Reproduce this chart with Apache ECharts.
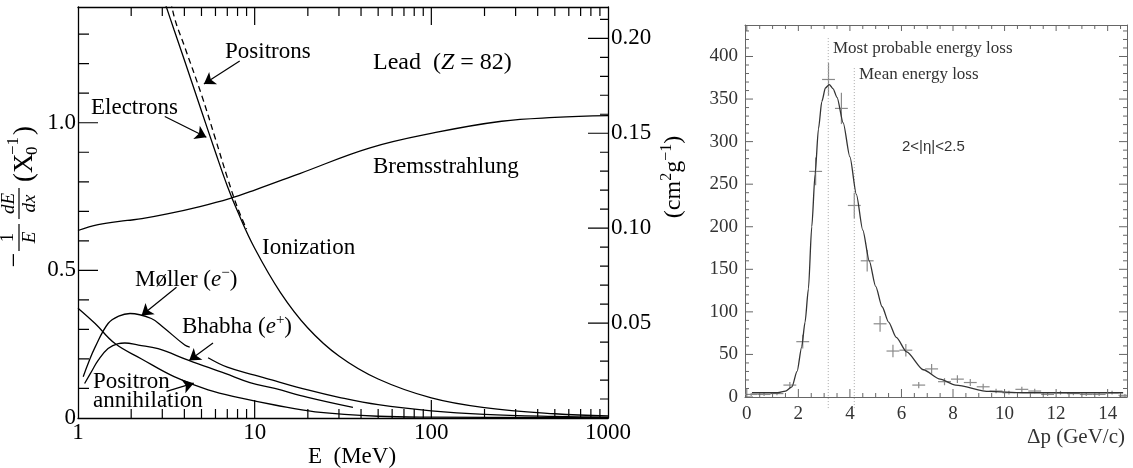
<!DOCTYPE html>
<html><head><meta charset="utf-8">
<script src="https://cdn.jsdelivr.net/npm/echarts@6/dist/echarts.min.js"></script>
<style>html,body{margin:0;padding:0;background:#fff}#c{width:1133px;height:468px}</style>
</head><body><div id="c"></div>
<script>
// ===== Left panel: -(1/E) dE/dx  [X0^-1]  vs  E [MeV], Lead =====
const energyTicks = [1, 10, 100, 1000];
const energyMajorTicks = [10, 100];
const energyMinor = [2,3,4,5,6,7,8,9,20,30,40,50,60,70,80,90,200,300,400,500,600,700,800,900];
const lossTicks = [0, 0.5, 1.0];
const lossMajorTicks = [0.5, 1.0];
const lossMinor = [0.1,0.2,0.3,0.4,0.6,0.7,0.8,0.9,1.1,1.2,1.3];
const massTicks = [0.05, 0.10, 0.15, 0.20];
const massMinor = [0.01,0.02,0.03,0.04,0.06,0.07,0.08,0.09,0.11,0.12,0.13,0.14,0.16,0.17,0.18,0.19,0.21];

const ionElectrons = [[3,1.433],[3.5,1.314],[4,1.2125],[5,1.04],[6,0.9],[7,0.786],[8,0.7],[10,0.575],[14,0.425],[20,0.305],[30,0.21],[50,0.132],[100,0.068],[200,0.035],[500,0.0144],[1000,0.0074]];
const ionPositrons = [[3.2,1.48],[3.5,1.36],[4,1.26],[5,1.095],[6,0.945],[7,0.815],[8,0.712],[9,0.64]];
const bremsstrahlung = [[1,0.635],[1.3,0.655],[1.9,0.669],[2.3,0.675],[3.2,0.691],[4.9,0.716],[7.2,0.743],[10,0.772],[18,0.828],[45,0.915],[106,0.967],[250,1.005],[500,1.018],[1000,1.024]];
const moller = [[1.07,0.14],[1.15,0.19],[1.25,0.24],[1.48,0.32],[1.7,0.345],[1.97,0.354],[2.6,0.337],[3,0.31],[4.02,0.247],[4.29,0.24],[4.9,'-'],[5.45,0.204],[7,0.172],[10,0.145],[12,0.132],[20,0.095],[30,0.07],[50,0.045],[100,0.024],[200,0.012],[500,0.005],[1000,0.0025]];
const bhabha = [[1.09,0.117],[1.2,0.16],[1.3,0.195],[1.48,0.235],[1.69,0.252],[1.84,0.254],[2.2,0.247],[2.84,0.235],[4.2,0.196],[6.8,0.151],[9.4,0.12],[13,0.1],[20,0.07],[36,0.036]];
const annihilation = [[1,0.372],[1.25,0.32],[1.62,0.252],[2.29,0.2],[3.5,0.14],[5.45,0.095],[8.4,0.067],[13,0.044],[22,0.021],[50,0.006],[100,0.003],[1000,0.001]];
// annotation arrows [fromE, fromV, toE, toV]
const arrows = [[8.23,1.209,5.16,1.131],[3.1,1.021,5.33,0.951],[3.61,0.443,2.29,0.347],[5.81,0.254,4.26,0.195],[3.17,0.09,4.52,0.118]];

// ===== Right panel: energy loss distribution =====
const dpMajor = [0,2,4,6,8,10,12,14];
const dpMinor = [0.5,1,1.5,2.5,3,3.5,4.5,5,5.5,6.5,7,7.5,8.5,9,9.5,10.5,11,11.5,12.5,13,13.5,14.5];
const countMajor = [0,50,100,150,200,250,300,350,400];
const countMinor = [10,20,30,40,60,70,80,90,110,120,130,140,160,170,180,190,210,220,230,240,260,270,280,290,310,320,330,340,360,370,380,390,410,420,430];
const dpCenters = [0.17,0.67,1.17,1.67,2.17,2.67,3.17,3.67,4.17,4.67,5.17,5.67,6.17,6.67,7.17,7.67,8.17,8.67,9.17,9.67,10.17,10.67,11.17,11.67,12.17,12.67,13.17,13.67,14.17,14.67];
const dpCounts  = [3,3,4,14,65,265,373,339,225,160,86,54,55,14,33,18,21,17,12,7,5,9,7,3,5,4,3,3,5,2];
const dpErrors  = [1.7,1.7,2,3.7,8,16.3,19.3,18.4,15,12.6,9.3,7.3,7.4,3.7,5.7,4.2,4.6,4.1,3.5,2.6,2.2,3,2.6,1.7,2.2,2,1.7,1.7,2.2,1.4];
const fitX = [0.2,1.2,1.5,1.75,1.95,2.13,2.26,2.39,2.52,2.65,2.78,2.91,3.05,3.2,3.35,3.5,3.74,4.0,4.25,4.5,4.75,5.0,5.25,5.5,5.8,6.2,6.85,7.5,8.1,9.4,10.7,14.6];
const fitY = [5,5,7,12,30,59,88,127,200,262,315,347,363,367,362,352,322,282,238,196,160,130,106,88,70,53,32,21,14,6.5,5,5];
const mostProbable = 3.16, meanLoss = 4.17;

const serif = 'Liberation Serif';
const chart = echarts.init(document.getElementById('c'));

const G0 = {left:78,top:7,width:530,height:411};
const G1 = {left:745,top:25,width:382,height:372};
const blkLine = {color:'#000',width:1.3};
const gryLine = {color:'#666',width:1};
function ax(base, position, lineStyle, label){
  return Object.assign({}, base, {
    position: position,
    axisLine: {show: true, onZero: false, lineStyle: lineStyle},
    axisTick: {show: false},
    axisLabel: label || {show: false},
    splitLine: {show: false}
  });
}
function lab(vals, fmt, size, margin, color){
  return {show:true,customValues:vals,formatter:fmt,fontFamily:serif,fontSize:size,color:color||'#000',margin:margin};
}
const xLeft = {gridIndex:0,type:'log',logBase:10,min:1,max:1000};
const yL = {gridIndex:0,type:'value',min:0,max:1.392};
const yR = {gridIndex:0,type:'value',min:0,max:0.2165};
const xRt = {gridIndex:1,type:'value',min:-0.07,max:14.75};
const yRt = {gridIndex:1,type:'value',min:0,max:437};

const xAxes = [
  ax(xLeft,'bottom',blkLine,lab(energyTicks,v=>String(Math.round(v)),23,3)),
  ax(xLeft,'top',blkLine),
  ax(xRt,'bottom',gryLine,lab(dpMajor,v=>String(v),19,8,'#333')),
  ax(xRt,'top',gryLine)
];
const yAxes = [
  ax(yL,'left',blkLine,lab(lossTicks,v=>v===0?'0':v.toFixed(1),23,2)),
  ax(yR,'right',blkLine,lab(massTicks,v=>v.toFixed(2),23,3)),
  ax(yRt,'left',gryLine,lab(countMajor,v=>String(v),19,7,'#333')),
  ax(yRt,'right',gryLine)
];

// ---- tick marks: plain line series made of short segments broken by '-' ----
// pixel length -> data length on each axis
const dyL = (yL.max - yL.min) / G0.height, dyM = (yR.max - yR.min) / G0.height;
const dLogX = 3 / G0.width;
const dxRt = (xRt.max - xRt.min) / G1.width, dyRt = (yRt.max - yRt.min) / G1.height;
function vTicks(vals, y0, dy, len){ // vertical ticks (on bottom/top frame)
  const out = [];
  vals.forEach(v => { out.push([v, y0], [v, y0 + dy*len], [v, '-']); });
  return out;
}
function hTicks(vals, x0, xEnd, len){ // horizontal ticks (on left/right frame)
  const out = [];
  vals.forEach(v => { out.push([x0, v], [xEnd(len), v], [x0, '-']); });
  return out;
}
function tickLine(xi, yi, data, color, w){
  return {type:'line',xAxisIndex:xi,yAxisIndex:yi,data:data,symbol:'none',showSymbol:false,smooth:false,
    connectNulls:false,clip:false,silent:true,z:4,lineStyle:{color:color,width:w,type:'solid'}};
}
const logIn = len => Math.pow(10, len*dLogX), logInR = len => Math.pow(10, 3 - len*dLogX);
const tickSeriesList = [
  tickLine(0,0,[].concat(
    vTicks(energyMajorTicks, yL.min,  dyL, 18), vTicks(energyMinor, yL.min,  dyL, 9),
    vTicks(energyMajorTicks, yL.max, -dyL, 18), vTicks(energyMinor, yL.max, -dyL, 9),
    hTicks(lossMajorTicks, xLeft.min, logIn, 20), hTicks(lossMinor, xLeft.min, logIn, 11)), '#000', 1.2),
  tickLine(0,1,[].concat(
    hTicks(massTicks, xLeft.max, logInR, 20), hTicks(massMinor, xLeft.max, logInR, 8)), '#000', 1.2),
  tickLine(2,2,[].concat(
    vTicks(dpMajor, yRt.min,  dyRt, 8), vTicks(dpMinor, yRt.min,  dyRt, 4),
    vTicks(dpMajor, yRt.max, -dyRt, 6), vTicks(dpMinor, yRt.max, -dyRt, 4),
    hTicks(countMajor, xRt.min, len => xRt.min + len*dxRt, 8), hTicks(countMinor, xRt.min, len => xRt.min + len*dxRt, 4),
    hTicks(countMajor, xRt.max, len => xRt.max - len*dxRt, 8), hTicks(countMinor, xRt.max, len => xRt.max - len*dxRt, 4)), '#666', 1)
];

function curve(data, dashed){
  return {type:'line',xAxisIndex:0,yAxisIndex:0,data:data,showSymbol:false,symbol:'none',smooth:0.4,clip:true,
    lineStyle:{color:'#000',width:1.3,type:dashed?[6,4]:'solid'},silent:true,connectNulls:false};
}
const arrowSeries = {type:'line',xAxisIndex:0,yAxisIndex:0,data:[],silent:true,
  markLine:{silent:true,symbol:['none','arrow'],symbolSize:11,label:{show:false},
    lineStyle:{color:'#000',width:1.2,type:'solid'},emphasis:{disabled:true},
    data:arrows.map(a=>[{coord:[a[0],a[1]]},{coord:[a[2],a[3]]}])}};

const crosses = {type:'custom',xAxisIndex:2,yAxisIndex:2,clip:true,silent:true,
  data:dpCenters.map((x,i)=>[x,dpCounts[i],dpErrors[i]]),
  encode:{x:0,y:1},
  renderItem:function(params,api){
    const x=api.value(0),y=api.value(1),e=api.value(2);
    const a=api.coord([x-0.25,y]),b=api.coord([x+0.25,y]),c=api.coord([x,y-e]),d=api.coord([x,y+e]);
    const st={stroke:'#8a8a8a',lineWidth:1.2};
    return {type:'group',children:[
      {type:'line',shape:{x1:a[0],y1:a[1],x2:b[0],y2:b[1]},style:st},
      {type:'line',shape:{x1:c[0],y1:c[1],x2:d[0],y2:d[1]},style:st}]};
  }};
const fit = {type:'line',xAxisIndex:2,yAxisIndex:2,data:fitX.map((x,i)=>[x,fitY[i]]),symbol:'none',smooth:0.25,smoothMonotone:'x',
  lineStyle:{color:'#333',width:1.3},silent:true};
function vline(x,top){
  return {type:'line',xAxisIndex:2,yAxisIndex:2,data:[[x,-13],[x,top]],symbol:'none',clip:false,silent:true,
    lineStyle:{color:'#aaa',width:1,type:[1,2]}};
}

function t(x,y,text,o){
  o=o||{};
  return {type:'text',x:x,y:y,silent:true,rotation:o.rotation||0,
    style:{text:text,fontFamily:o.family||serif,fontSize:o.size||23,fill:o.fill||'#000',fontStyle:o.italic?'italic':'normal',
      align:o.align||'left',verticalAlign:o.va||'middle',rich:o.rich}};
}
const R = {
  a:{fontFamily:serif,fontSize:23,fill:'#000',lineHeight:28},
  i:{fontFamily:serif,fontSize:23,fontStyle:'italic',fill:'#000',lineHeight:28},
  s:{fontFamily:serif,fontSize:15,fill:'#000',verticalAlign:'top',lineHeight:15}
};
const RL = {
  a:{fontFamily:serif,fontSize:24,fill:'#000',lineHeight:28},
  i:{fontFamily:serif,fontSize:24,fontStyle:'italic',fill:'#000',lineHeight:28}
};
const Rr = {
  a:{fontFamily:serif,fontSize:24,fill:'#000',lineHeight:30},
  s:{fontFamily:serif,fontSize:16,fill:'#000',verticalAlign:'top',lineHeight:16}
};

// y-axis title of left panel, built as a rotated group
const ytitle = {type:'group',x:19,y:266,rotation:Math.PI/2,silent:true,children:[
  {type:'text',x:6,y:-4,style:{text:'−',fontFamily:serif,fontSize:26,fill:'#000',align:'center',verticalAlign:'middle'}},
  {type:'line',shape:{x1:15,y1:0,x2:42,y2:0},style:{stroke:'#000',lineWidth:1.2}},
  {type:'text',x:28.5,y:-1,style:{text:'1',fontFamily:serif,fontSize:19,fill:'#000',align:'center',verticalAlign:'bottom'}},
  {type:'text',x:28.5,y:1,style:{text:'E',fontFamily:serif,fontStyle:'italic',fontSize:19,fill:'#000',align:'center',verticalAlign:'top'}},
  {type:'line',shape:{x1:47,y1:0,x2:78,y2:0},style:{stroke:'#000',lineWidth:1.2}},
  {type:'text',x:62.5,y:-1,style:{text:'dE',fontFamily:serif,fontStyle:'italic',fontSize:19,fill:'#000',align:'center',verticalAlign:'bottom'}},
  {type:'text',x:62.5,y:1,style:{text:'dx',fontFamily:serif,fontStyle:'italic',fontSize:19,fill:'#000',align:'center',verticalAlign:'top'}},
  {type:'text',x:84,y:6,style:{text:'(X',fontFamily:serif,fontSize:27,fill:'#000',align:'left',verticalAlign:'middle'}},
  {type:'text',x:111,y:14,style:{text:'0',fontFamily:serif,fontSize:17,fill:'#000',align:'left',verticalAlign:'middle'}},
  {type:'text',x:111,y:-5,style:{text:'−1',fontFamily:serif,fontSize:17,fill:'#000',align:'left',verticalAlign:'middle'}},
  {type:'text',x:131,y:6,style:{text:')',fontFamily:serif,fontSize:27,fill:'#000',align:'left',verticalAlign:'middle'}}
]};

const graphics = [
  ytitle,
  t(674,177,'{a|(cm}{s|2}{a|g}{s|−1}{a|)}',{rotation:Math.PI/2,align:'center',rich:Rr}),
  t(352,457,'E  (MeV)',{align:'center'}),
  t(225,52,'Positrons'),
  t(91,108,'Electrons'),
  t(373,63,'{a|Lead  (}{i|Z}{a| = 82)}',{rich:RL}),
  t(373,167,'Bremsstrahlung'),
  t(262,248,'Ionization'),
  t(135,280,'{a|Møller (}{i|e}{s|−}{a|)}',{rich:R}),
  t(182,327,'{a|Bhabha (}{i|e}{s|+}{a|)}',{rich:R}),
  t(93,382,'Positron'),
  t(93,401,'annihilation'),
  t(833,49,'Most probable energy loss',{size:17,fill:'#333'}),
  t(859,75,'Mean energy loss',{size:17,fill:'#333'}),
  t(902,147,'2<|η|<2.5',{size:15,fill:'#333',family:'Liberation Sans'}),
  t(1125,437,'Δp (GeV/c)',{size:21,fill:'#333',align:'right'})
];

chart.setOption({
  animation:false,
  backgroundColor:'#fff',
  grid:[G0, G1],
  xAxis:xAxes, yAxis:yAxes,
  series:[
    curve(ionElectrons,false), curve(ionPositrons,true), curve(bremsstrahlung,false),
    curve(moller,false), curve(bhabha,false), curve(annihilation,false), arrowSeries,
    vline(mostProbable,423), vline(meanLoss,388), fit, crosses
  ].concat(tickSeriesList),
  graphic:graphics
});
</script></body></html>
